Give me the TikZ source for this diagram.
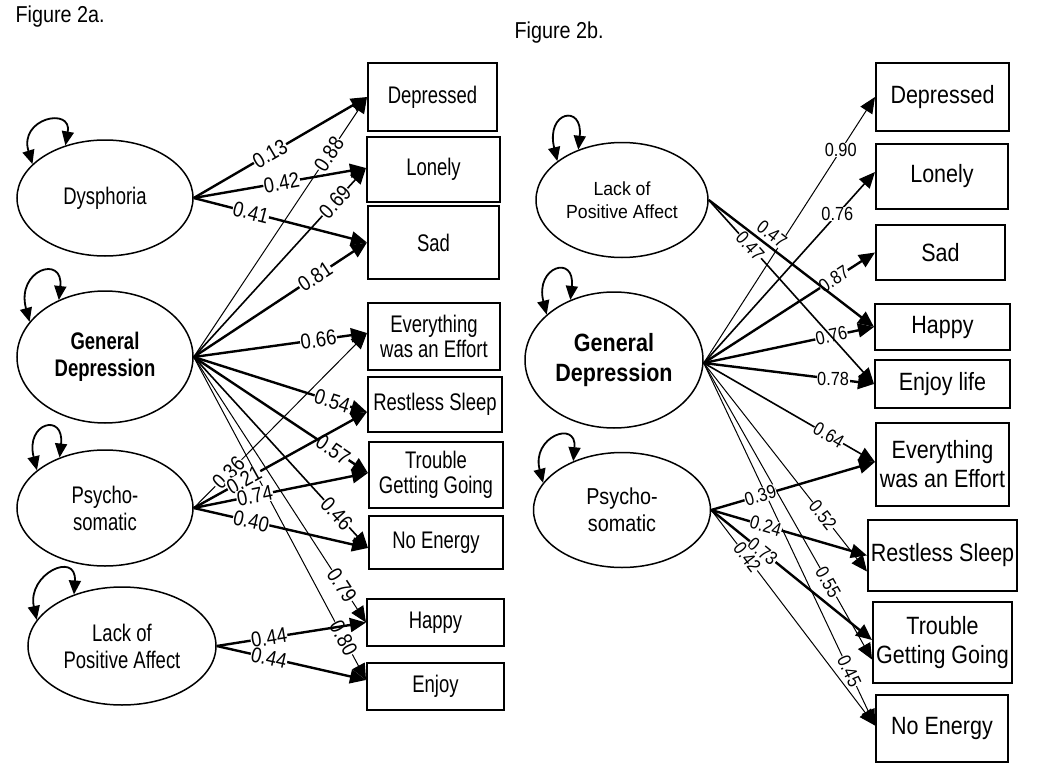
\documentclass[tikz,border=0pt]{standalone}
\usepackage{fontspec}
\setmainfont{Liberation Sans}
\newfontfamily\fL[FakeStretch=0.77]{Liberation Sans}
\newfontfamily\fR[FakeStretch=0.86]{Liberation Sans}
\newfontfamily\fN[FakeStretch=0.86]{Liberation Sans}
\newfontfamily\fE[FakeStretch=0.93]{Liberation Sans}
\usetikzlibrary{shapes.geometric,arrows.meta}
\begin{document}
\begin{tikzpicture}[x=1pt,y=-1pt,
  latent/.style={ellipse, draw, line width=1.5pt, inner sep=0pt, align=center},
  obs/.style={rectangle, draw, line width=2pt, inner sep=0pt, align=center},
  txL/.style={font=\fL\fontsize{24}{25}\selectfont},
  txR/.style={font=\fR\fontsize{25}{29}\selectfont},
  tip/.style={-{Triangle[length=16pt,width=14pt]}},
  pth/.style={tip, line width=2.4pt},
  pmid/.style={tip, line width=1.6pt},
  pthin/.style={tip, line width=1pt},
  lab/.style={fill=white, inner sep=0.5pt, sloped, font=\fN\fontsize{21.5}{21}\selectfont},
  labR/.style={fill=white, inner sep=0.5pt, sloped, font=\fN\fontsize{19}{18}\selectfont},
  labRh/.style={fill=white, inner sep=0.5pt, font=\fN\fontsize{19}{18}\selectfont},
  selfloop/.style={line width=1.8pt, {Triangle[length=14pt,width=12pt]}-{Triangle[length=14pt,width=12pt]}}
]
\fill[white] (0,0) rectangle (1037,771);
\useasboundingbox (0,0) rectangle (1037,771);

% titles
\node[anchor=west, font=\fN\fontsize{23}{26}\selectfont] (t1) at (12,17) {Figure 2a.};
\node[anchor=west, font=\fN\fontsize{23}{26}\selectfont] (t2) at (511,33) {Figure 2b.};

% ---------- left panel latents
\node[latent, txL, minimum width=176pt, minimum height=116pt] (dys) at (105,198) {Dysphoria};
\node[latent, minimum width=176pt, minimum height=132pt, font=\fL\fontsize{24}{27}\selectfont\bfseries] (gd) at (105,357) {General\\Depression};
\node[latent, minimum width=176pt, minimum height=116pt, font=\fL\fontsize{24}{27}\selectfont] (psy) at (105,508) {Psycho-\\somatic};
\node[latent, minimum width=188pt, minimum height=118pt, font=\fL\fontsize{24}{27}\selectfont] (lpa) at (122,646) {Lack of\\Positive Affect};

% ---------- left panel indicators
\node[obs, txL, minimum width=129pt, minimum height=68pt] (ldep) at (432.5,97) {Depressed};
\node[obs, txL, minimum width=133pt, minimum height=65pt] (llon) at (433.5,169.5) {Lonely};
\node[obs, txL, minimum width=131pt, minimum height=73pt] (lsad) at (433.5,242.5) {Sad};
\node[obs, txL, minimum width=132pt, minimum height=67pt] (leve) at (434,336.5) {Everything\\was an Effort};
\node[obs, txL, minimum width=134pt, minimum height=55pt] (lres) at (435,404.5) {Restless Sleep};
\node[obs, txL, minimum width=134pt, minimum height=66pt] (ltro) at (436,475) {Trouble\\Getting Going};
\node[obs, txL, minimum width=134pt, minimum height=53pt] (lnoe) at (436,542.5) {No Energy};
\node[obs, txL, minimum width=137pt, minimum height=47pt] (lhap) at (435.5,622.5) {Happy};
\node[obs, txL, minimum width=137pt, minimum height=47pt] (lenj) at (435.5,686.5) {Enjoy};

% left self loops
\draw[selfloop] (dys.155) .. controls +(-14,-46) and +(7,-39) .. (dys.127);
\draw[selfloop] (gd.155) .. controls +(-14,-52) and +(5,-46) .. (gd.129);
\draw[selfloop] (psy.151) .. controls +(-12,-48) and +(5,-45) .. (psy.132);
\draw[selfloop] (lpa.163) .. controls +(-10,-46) and +(3,-44) .. (lpa.133);

% left paths
\draw[pth] (dys.east) -- node[lab,pos=0.44]{0.13} (ldep.west);
\draw[pth] (dys.east) -- node[lab,pos=0.51]{0.42} ([yshift=1.5pt]llon.west);
\draw[pth] (dys.east) -- node[lab,pos=0.33]{0.41} (lsad.west);
\draw[pthin] (gd.east) -- node[lab,pos=0.78]{0.88} (ldep.west);
\draw[pmid] (gd.east) -- node[lab,pos=0.82]{0.69} ([yshift=1.5pt]llon.west);
\draw[pth] (gd.east) -- node[lab,pos=0.70]{0.81} (lsad.west);
\draw[pth] (gd.east) -- node[lab,pos=0.72]{0.66} ([yshift=3.5pt]leve.west);
\draw[pth] (gd.east) -- node[lab,pos=0.80]{0.54} ([yshift=-7.5pt]lres.west);
\draw[pth] (gd.east) -- node[lab,pos=0.80]{0.57} ([yshift=2pt]ltro.west);
\draw[pmid] (gd.east) -- node[lab,pos=0.82]{0.46} ([yshift=-5.5pt]lnoe.west);
\draw[pthin] (gd.east) -- node[lab,pos=0.86]{0.79} (lhap.west);
\draw[pthin] (gd.east) -- node[lab,pos=0.87]{0.80} ([yshift=6.5pt]lenj.west);
\draw[pthin] (psy.east) -- node[lab,pos=0.20]{0.36} ([yshift=3.5pt]leve.west);
\draw[pth] (psy.east) -- node[lab,pos=0.29]{0.21} ([yshift=-7.5pt]lres.west);
\draw[pth] (psy.east) -- node[lab,pos=0.35]{0.74} ([yshift=2pt]ltro.west);
\draw[pth] (psy.east) -- node[lab,pos=0.33]{0.40} ([yshift=-5.5pt]lnoe.west);
\draw[pth] (lpa.east) -- node[lab,pos=0.35]{0.44} (lhap.west);
\draw[pth] (lpa.east) -- node[lab,pos=0.35]{0.44} ([yshift=6.5pt]lenj.west);

% ---------- right panel latents
\node[latent, minimum width=172pt, minimum height=115pt, font=\fE\fontsize{19}{23}\selectfont] (lpa2) at (622,200) {Lack of\\Positive Affect};
\node[latent, minimum width=178pt, minimum height=136pt, font=\fN\fontsize{25}{30}\selectfont\bfseries] (gd2) at (614,360) {General\\Depression};
\node[latent, minimum width=177pt, minimum height=115pt, font=\fN\fontsize{23}{27}\selectfont] (psy2) at (622,510) {Psycho-\\somatic};

% right panel indicators
\node[obs, txR, minimum width=133pt, minimum height=68pt] (rdep) at (942.5,97) {Depressed};
\node[obs, txR, minimum width=132pt, minimum height=65pt] (rlon) at (942,176.5) {Lonely};
\node[obs, txR, minimum width=129pt, minimum height=55pt] (rsad) at (940.5,252.5) {Sad};
\node[obs, txR, minimum width=135pt, minimum height=46pt] (rhap) at (942.5,327) {Happy};
\node[obs, txR, minimum width=135pt, minimum height=48pt] (renj) at (942.5,384) {Enjoy life};
\node[obs, txR, minimum width=133pt, minimum height=83pt] (reve) at (942.5,464.5) {Everything\\was an Effort};
\node[obs, txR, minimum width=149pt, minimum height=71pt] (rres) at (942.5,555.5) {Restless Sleep};
\node[obs, txR, minimum width=139pt, minimum height=81pt] (rtro) at (942.5,642.5) {Trouble\\Getting Going};
\node[obs, txR, minimum width=132pt, minimum height=67pt] (rnoe) at (942,728.5) {No Energy};

% right self loops
\draw[selfloop] (lpa2.149) .. controls +(-12,-50) and +(5,-46) .. (lpa2.131);
\draw[selfloop] (gd2.146) .. controls +(-12,-48) and +(5,-46) .. (gd2.126);
\draw[selfloop] (psy2.161) .. controls +(-12,-46) and +(4,-42) .. (psy2.135);

% right paths
\draw[pthin] ([yshift=-3pt]gd2.east) -- node[labRh,pos=0.80]{0.90} (rdep.west);
\draw[pmid] ([yshift=-3pt]gd2.east) -- node[labRh,pos=0.78]{0.76} ([yshift=4.5pt]rlon.west);
\draw[pth] ([yshift=-3pt]gd2.east) -- node[labR,pos=0.76]{0.87} (rsad.west);
\draw[pth] ([yshift=-3pt]gd2.east) -- node[labR,pos=0.75]{0.76} (rhap.west);
\draw[pth] ([yshift=-3pt]gd2.east) -- node[labRh,pos=0.76]{0.78} (renj.west);
\draw[pmid] ([yshift=-3pt]gd2.east) -- node[labR,pos=0.73]{0.64} ([yshift=2.5pt]reve.west);
\draw[pthin] ([yshift=-3pt]gd2.east) -- node[labR,pos=0.73]{0.52} ([yshift=-16pt]rres.west);
\draw[pthin] ([yshift=-3pt]gd2.east) -- node[labR,pos=0.74]{0.55} ([yshift=-17pt]rtro.west);
\draw[pthin] ([yshift=-3pt]gd2.east) -- node[labR,pos=0.85]{0.45} ([yshift=3pt]rnoe.west);
\draw[pth] (lpa2.east) -- node[labR,pos=0.34,above=3pt]{0.47} (rhap.west);
\draw[pmid] (lpa2.east) -- node[labR,pos=0.25]{0.47} (renj.west);
\draw[pth] (psy2.east) -- node[labR,pos=0.30]{0.39} ([yshift=2.5pt]reve.west);
\draw[pth] (psy2.east) -- node[labR,pos=0.35]{0.24} (rres.west);
\draw[pth] (psy2.east) -- node[labR,pos=0.32]{0.73} ([yshift=2.5pt]rtro.west);
\draw[pthin] (psy2.east) -- node[labR,pos=0.22]{0.42} ([yshift=3pt]rnoe.west);
\end{tikzpicture}
\end{document}
